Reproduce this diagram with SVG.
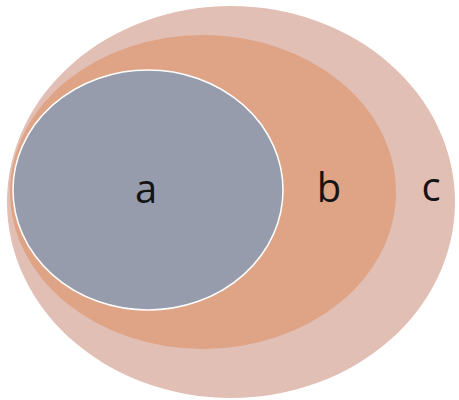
<svg xmlns="http://www.w3.org/2000/svg" width="459" height="400" viewBox="0 0 459 400">
<style>
text{font-family:"Open Sans","Liberation Sans",sans-serif;font-size:40px;fill:#141414;text-anchor:middle}
</style>
<rect width="459" height="400" fill="#ffffff"/>
<g id="c"><ellipse cx="231" cy="202" rx="224" ry="196" fill="#e2bfb5"/><text x="431" y="201">c</text></g>
<g id="b"><ellipse cx="203" cy="192" rx="193" ry="157" fill="#dfa386"/><text x="329" y="202">b</text></g>
<g id="a"><ellipse cx="148" cy="190" rx="135" ry="120" fill="#979cad" stroke="#ffffff" stroke-width="1.5"/><text x="146" y="203">a</text></g>
</svg>
